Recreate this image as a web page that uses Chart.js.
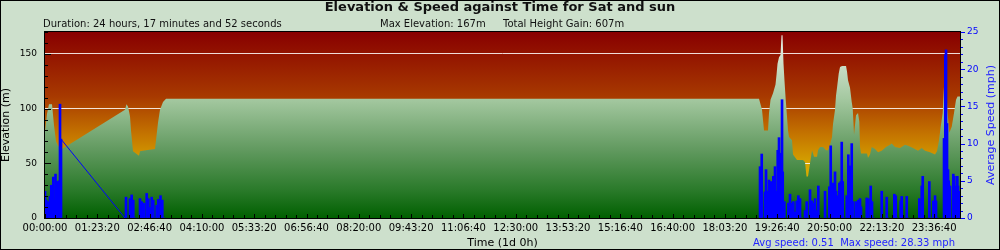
<!DOCTYPE html>
<html>
<head>
<meta charset="utf-8">
<title>Elevation & Speed against Time</title>
<script src="https://cdn.jsdelivr.net/npm/chart.js@4/dist/chart.umd.min.js"></script>
<style>
    html, body { margin: 0; padding: 0; background: #cde0cc; }
    canvas { display: block; }
</style>
</head>
<body>
<canvas id="chart" width="1000" height="250"></canvas>
<script>
// Elevation profile (time in seconds from start, elevation in metres)
const elevTimes = [0, 191, 382, 669, 860, 1052, 1243, 1434, 1625,
    7648, 7791, 7935, 8126, 8222, 8413, 8700, 8986, 9082, 9656, 10516, 10612, 10803, 10994, 11281, 11568,
    68258, 68545, 68737, 69119, 69215, 69358, 69597, 69836, 69932, 70027, 70170, 70314, 70409, 70505,
    70601, 70697, 70811, 70907, 71031, 71126, 71413, 71509, 71891, 72465, 72656, 72799, 72943, 73134,
    73325, 73517, 73804, 73899, 74090, 74377, 74664, 74855, 75046, 75237, 75333, 75524, 75620, 75715,
    75878, 76002, 76193, 76576, 76671, 76767, 76958, 77121, 77217, 77341, 77532, 77723, 77847, 77914,
    78010, 78583, 78679, 78870, 79033, 79348, 79635, 79989, 80400, 80782, 80944, 81260, 81738, 82216,
    82503, 82981, 83459, 83813, 84128, 84606, 85084, 85275, 85466, 85629, 85820, 85973, 86136, 86260,
    86451, 86681, 86900, 87092, 87236, 87472];
const elevValues = [79, 95, 104, 104, 85, 70, 66, 64, 63,
    99, 104, 102, 93, 80, 61, 59, 57, 61, 62, 63, 71, 87, 99, 106, 109,
    109, 99, 80, 80, 96, 108, 114, 122, 131, 141, 147, 149, 167, 167,
    141, 125, 108, 96, 80, 74, 71, 58, 53, 53, 51, 38, 38, 50,
    62, 56, 56, 62, 65, 65, 62, 62, 67, 74, 86, 99, 112, 119,
    132, 138, 139, 139, 134, 126, 119, 106, 100, 76, 94, 96, 88, 65,
    59, 59, 55, 58, 65, 63, 60, 61.5, 65, 67, 68, 65, 64, 67,
    66, 64, 61.5, 64, 61.5, 60, 58, 61, 71, 83.5, 96, 126, 128, 99,
    78, 83.5, 96, 108, 111, 111];

// Average speed samples (mph); null marks the stretch with no recorded data
const speedTimes = [0, 124, 239, 335, 478, 602, 717, 793, 908, 1004, 1147, 1243, 1319, 1434, 1530,
    4000,
    7648, 7744, 8126, 8288, 8441, 8604, 9082, 9245, 9398, 9464, 9560, 9722, 9875, 10038, 10200, 10353,
    10516, 10679, 10831, 11041, 11214, 11376,
    68354, 68421, 68517, 68832, 68928, 68995, 69090, 69214, 69310, 69406, 69501, 69626, 69788, 69951,
    70046, 70170, 70266, 70362, 70457, 70524, 70677, 71059, 71222, 71318, 71537, 71700, 71863, 72015,
    72178, 72341, 72656, 72819, 72971, 73134, 73297, 73449, 73612, 73775, 73927, 74090, 74568, 74664,
    74979, 75113, 75208, 75361, 75524, 75620, 75744, 75935, 76069, 76165, 76260, 76384, 76643, 76795,
    76910, 76958, 77121, 77217, 77341, 77504, 77628, 77752, 77914, 78010, 78134, 78555, 78708, 78803,
    78937, 79061, 79185, 79989, 80085, 80467, 80563, 81194, 81328, 81424, 81806, 81902, 82055, 82380,
    82503, 83584, 83718, 83813, 83909, 84033, 84540, 84674, 84922, 85084, 85180, 85304, 85944, 86068,
    86136, 86231, 86327, 86394, 86518, 86834, 86929, 87025, 87159, 87216, 87283, 87408, 87472];
const speedValues = [3.6, 2.4, 1.6, 2.2, 2.9, 4.4, 2.3, 5.5, 2.4, 5.9, 4.9, 3.0, 5.0, 15.3, 10.6,
    null,
    0, 2.8, 2.6, 3.1, 2.4, 0, 2.6, 2.2, 0.8, 2.0, 0, 3.3, 2.6, 1.4, 2.8, 2.4,
    0, 1.7, 2.5, 3.0, 2.4, 0,
    6.9, 4.9, 8.6, 3.5, 6.5, 3.6, 2.0, 5.1, 3.3, 4.9, 2.3, 5.6, 6.9, 3.6,
    9.1, 10.8, 8.0, 8.7, 15.9, 6.2, 2.2, 2.0, 3.2, 2.0, 2.2, 0.8, 2.3, 3.0,
    2.6, 0, 1.0, 2.2, 0, 3.8, 2.3, 2.0, 2.6, 1.0, 4.3, 0, 3.6, 0,
    4.2, 9.7, 2.3, 4.7, 6.2, 3.6, 3.0, 4.7, 4.9, 10.2, 4.9, 0, 3.0, 8.5,
    2.2, 7.0, 10.0, 2.2, 0, 2.2, 0, 2.4, 2.6, 1.5, 0, 2.7, 2.6, 0,
    4.3, 2.2, 0, 3.6, 0, 2.8, 0, 3.2, 3.0, 0, 2.3, 2.9, 0, 2.9,
    0, 2.6, 0, 4.3, 5.6, 0, 4.9, 0, 2.3, 3.0, 2.3, 0, 10.7, 21.9,
    22.6, 12.7, 6.5, 5.0, 4.3, 5.9, 5.6, 4.3, 3.6, 5.6, 4.3, 3.6, 3.6];

const timeTicks = [0, 5000, 10000, 15000, 20000, 25000, 30000, 35000, 40000,
    45000, 50000, 55000, 60000, 65000, 70000, 75000, 80000, 85000];
const elevTicks = [0, 50, 100, 150];
const speedTicks = [0, 5, 10, 15, 20, 25];

const titleText = 'Elevation & Speed against Time for Sat and sun';
const statsText = ['Duration: 24 hours, 17 minutes and 52 seconds', 'Max Elevation: 167m', 'Total Height Gain: 607m'];
const speedSummary = 'Avg speed: 0.51  Max speed: 28.33 mph';

const totalSeconds = 87472;
const FONT = '"DejaVu Sans", Verdana, sans-serif';
const SPEED_BLUE = '#0000ff';

function hms(s) {
    const pad = n => String(n).padStart(2, '0');
    return pad(Math.floor(s / 3600)) + ':' + pad(Math.floor(s % 3600 / 60)) + ':' + pad(Math.round(s % 60));
}

const elevPoints = elevTimes.map((t, i) => ({ x: t, y: elevValues[i] }));
const speedPoints = speedTimes.map((t, i) => ({ x: t, y: speedValues[i] }));

// the straight line drawn across the gap with no data
const gapAt = speedValues.indexOf(null);
const gapPoints = [speedPoints[gapAt - 1], speedPoints[gapAt + 1]];

function vGradient(ctx, area, stops) {
    const g = ctx.createLinearGradient(0, area.top, 0, area.bottom);
    stops.forEach(s => g.addColorStop(s[0], s[1]));
    return g;
}

const backdropPlugin = {
    id: 'backdrop',
    beforeDraw(chart) {
        const { ctx, chartArea: a } = chart;
        ctx.save();
        ctx.fillStyle = vGradient(ctx, a, [
            [0, '#880000'], [0.35, '#a83a00'], [0.55, '#c47400'], [0.72, '#d6a600'], [1, '#e2c400']
        ]);
        ctx.fillRect(a.left, a.top, a.right - a.left, a.bottom - a.top);
        ctx.restore();
    },
    afterDraw(chart) {
        const { ctx, chartArea: a, scales } = chart;
        ctx.save();

        // minor tick marks
        ctx.lineWidth = 1;
        ctx.strokeStyle = '#000';
        ctx.beginPath();
        for (let v = 0; v <= 170; v += 10) {
            const y = Math.round(scales.y.getPixelForValue(v)) + 0.5;
            ctx.moveTo(a.left, y);
            ctx.lineTo(a.left + (v % 50 === 0 ? 6 : 3), y);
        }
        for (let t = 0; t <= totalSeconds; t += 1000) {
            const x = Math.round(scales.x.getPixelForValue(t)) + 0.5;
            ctx.moveTo(x, a.bottom);
            ctx.lineTo(x, a.bottom - (t % 5000 === 0 ? 4 : 3));
        }
        ctx.stroke();
        ctx.strokeStyle = SPEED_BLUE;
        ctx.beginPath();
        for (let v = 0; v <= 25; v += 1) {
            const y = Math.round(scales.y1.getPixelForValue(v)) + 0.5;
            ctx.moveTo(a.right, y);
            ctx.lineTo(a.right + (v % 5 === 0 ? 5 : 3), y);
        }
        ctx.stroke();

        // plot frame and outer frame
        ctx.strokeStyle = '#000';
        ctx.strokeRect(a.left - 0.5, a.top - 0.5, a.right - a.left + 1, a.bottom - a.top + 1);
        ctx.strokeRect(0.5, 0.5, chart.width - 1, chart.height - 1);

        // header texts
        ctx.fillStyle = '#111';
        ctx.textBaseline = 'middle';
        ctx.textAlign = 'center';
        ctx.font = 'bold 13px ' + FONT;
        ctx.fillText(titleText, 500, 8);
        ctx.textAlign = 'left';
        ctx.font = '10px ' + FONT;
        ctx.fillText(statsText[0], 43, 24);
        ctx.fillText(statsText[1], 380, 24);
        ctx.fillText(statsText[2], 503, 24);

        // speed summary under the right axis
        ctx.fillStyle = '#2222ff';
        ctx.textAlign = 'right';
        ctx.fillText(speedSummary, 955, 243);

        // right axis title, reading bottom to top
        ctx.font = '11px ' + FONT;
        ctx.textAlign = 'center';
        ctx.translate(991, (a.top + a.bottom) / 2);
        ctx.rotate(-Math.PI / 2);
        ctx.fillText('Average Speed (mph)', 0, 0);
        ctx.restore();
    }
};

new Chart(document.getElementById('chart'), {
    type: 'line',
    data: {
        datasets: [
            {
                type: 'bar',
                label: 'Speed',
                data: speedPoints,
                yAxisID: 'y1',
                order: 1,
                grouped: false,
                barThickness: 2,
                borderWidth: 0,
                backgroundColor: SPEED_BLUE
            },
            {
                label: 'No data',
                data: gapPoints,
                yAxisID: 'y1',
                order: 2,
                borderColor: SPEED_BLUE,
                borderWidth: 1,
                fill: false,
                pointRadius: 0
            },
            {
                label: 'Elevation',
                data: elevPoints,
                yAxisID: 'y',
                order: 3,
                tension: 0,
                borderColor: 'rgba(0,0,0,0)',
                borderWidth: 0,
                fill: 'origin',
                pointRadius: 0,
                backgroundColor: function(context) {
                    const area = context.chart.chartArea;
                    if (!area) return '#6a9a68';
                    return vGradient(context.chart.ctx, area, [
                        [0, '#eef3ec'], [0.36, '#a4c8a0'], [0.63, '#629a60'], [0.85, '#2a7a2a'], [1, '#006000']
                    ]);
                }
            }
        ]
    },
    options: {
        responsive: false,
        animation: false,
        devicePixelRatio: 1,
        layout: { padding: { top: 32, left: 0, right: 0, bottom: 0 } },
        plugins: {
            legend: { display: false },
            tooltip: { enabled: false }
        },
        scales: {
            x: {
                type: 'linear',
                min: 0,
                max: totalSeconds,
                offset: false,
                afterFit: scale => { scale.height = 32; },
                afterBuildTicks: scale => { scale.ticks = timeTicks.map(v => ({ value: v })); },
                grid: { drawOnChartArea: false, drawTicks: false, offset: false },
                border: { display: false },
                ticks: {
                    autoSkip: false,
                    maxRotation: 0,
                    padding: 4,
                    color: '#000',
                    font: { family: FONT, size: 10 },
                    callback: v => hms(v)
                },
                title: {
                    display: true,
                    text: 'Time (1d 0h)',
                    color: '#000',
                    padding: 0,
                    font: { family: FONT, size: 11 }
                }
            },
            y: {
                position: 'left',
                min: 0,
                max: 170,
                afterFit: scale => { scale.width = 45; },
                afterBuildTicks: scale => { scale.ticks = elevTicks.map(v => ({ value: v })); },
                grid: {
                    drawTicks: false,
                    color: ctx => ctx.tick && ctx.tick.value === 0 ? 'rgba(0,0,0,0)' : 'rgba(255,255,255,0.85)'
                },
                border: { display: false },
                ticks: {
                    padding: 8,
                    color: '#000',
                    font: { family: FONT, size: 9 }
                },
                title: {
                    display: true,
                    text: 'Elevation (m)',
                    color: '#000',
                    padding: 0,
                    font: { family: FONT, size: 11 }
                }
            },
            y1: {
                position: 'right',
                min: 0,
                max: 25,
                afterFit: scale => { scale.width = 40; },
                afterBuildTicks: scale => { scale.ticks = speedTicks.map(v => ({ value: v })); },
                grid: { drawOnChartArea: false, drawTicks: false },
                border: { display: false },
                ticks: {
                    padding: 7,
                    color: SPEED_BLUE,
                    font: { family: FONT, size: 9 }
                }
            }
        }
    },
    plugins: [backdropPlugin]
});
</script>
</body>
</html>
